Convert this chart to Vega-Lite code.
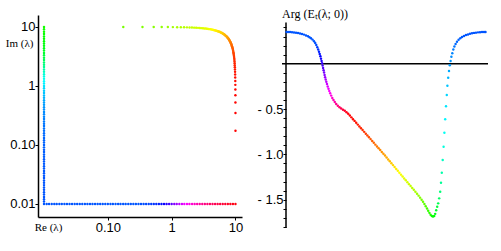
{
  "$schema": "https://vega.github.io/schema/vega-lite/v6.json",
  "padding": {"left": 5, "top": 8, "right": 5, "bottom": 5},
  "background": "white",
  "bounds": "flush",
  "spacing": 44,
  "config": {
    "view": {"stroke": null},
    "axis": {"grid": false, "domainColor": "black", "tickColor": "black", "labelColor": "black", "titleColor": "black", "labelFont": "Liberation Sans", "labelFontSize": 13, "titleFont": "Liberation Serif", "titleFontWeight": "normal", "titleFontSize": 11, "domainWidth": 1.5, "tickWidth": 1, "labelFlush": false, "labelOverlap": false}
  },
  "datasets": {
    "left": [
      {"re": 0.01, "im": 0.01, "h": 220}, {"re": 0.011, "im": 0.01, "h": 220}, {"re": 0.012, "im": 0.01, "h": 220}, {"re": 0.0132, "im": 0.01, "h": 220}, {"re": 0.0145, "im": 0.01, "h": 220}, {"re": 0.0158, "im": 0.01, "h": 220}, {"re": 0.0174, "im": 0.01, "h": 220}, {"re": 0.019, "im": 0.01, "h": 220}, {"re": 0.0209, "im": 0.01, "h": 220}, {"re": 0.0229, "im": 0.01, "h": 220}, {"re": 0.0251, "im": 0.01, "h": 220}, {"re": 0.0275, "im": 0.01, "h": 220}, {"re": 0.0302, "im": 0.01, "h": 220}, {"re": 0.0331, "im": 0.01, "h": 220}, {"re": 0.0363, "im": 0.01, "h": 220}, {"re": 0.0398, "im": 0.01, "h": 220}, {"re": 0.0437, "im": 0.01, "h": 220}, {"re": 0.0479, "im": 0.01, "h": 220}, {"re": 0.0525, "im": 0.01, "h": 220}, {"re": 0.0575, "im": 0.01, "h": 220}, {"re": 0.0631, "im": 0.01, "h": 220}, {"re": 0.0692, "im": 0.01, "h": 220}, {"re": 0.0759, "im": 0.01, "h": 220}, {"re": 0.0832, "im": 0.01, "h": 220}, {"re": 0.0912, "im": 0.01, "h": 220},
      {"re": 0.1, "im": 0.01, "h": 220}, {"re": 0.11, "im": 0.01, "h": 220}, {"re": 0.12, "im": 0.01, "h": 220}, {"re": 0.132, "im": 0.01, "h": 220}, {"re": 0.145, "im": 0.01, "h": 220}, {"re": 0.158, "im": 0.01, "h": 220}, {"re": 0.174, "im": 0.01, "h": 220}, {"re": 0.19, "im": 0.01, "h": 220}, {"re": 0.209, "im": 0.01, "h": 220}, {"re": 0.229, "im": 0.01, "h": 220}, {"re": 0.251, "im": 0.01, "h": 220}, {"re": 0.275, "im": 0.01, "h": 220}, {"re": 0.302, "im": 0.01, "h": 220}, {"re": 0.331, "im": 0.01, "h": 221}, {"re": 0.363, "im": 0.01, "h": 222}, {"re": 0.398, "im": 0.01, "h": 223}, {"re": 0.437, "im": 0.01, "h": 224}, {"re": 0.479, "im": 0.01, "h": 226}, {"re": 0.525, "im": 0.01, "h": 228}, {"re": 0.575, "im": 0.01, "h": 230}, {"re": 0.631, "im": 0.01, "h": 233}, {"re": 0.692, "im": 0.01, "h": 237}, {"re": 0.759, "im": 0.01, "h": 242}, {"re": 0.832, "im": 0.01, "h": 248}, {"re": 0.912, "im": 0.01, "h": 255},
      {"re": 1, "im": 0.01, "h": 262}, {"re": 1.1, "im": 0.01, "h": 270}, {"re": 1.2, "im": 0.01, "h": 277}, {"re": 1.32, "im": 0.01, "h": 284}, {"re": 1.45, "im": 0.01, "h": 290}, {"re": 1.58, "im": 0.01, "h": 296}, {"re": 1.74, "im": 0.01, "h": 301}, {"re": 1.9, "im": 0.01, "h": 306}, {"re": 2.09, "im": 0.01, "h": 311}, {"re": 2.29, "im": 0.01, "h": 315}, {"re": 2.51, "im": 0.01, "h": 319}, {"re": 2.75, "im": 0.01, "h": 323}, {"re": 3.02, "im": 0.01, "h": 327}, {"re": 3.31, "im": 0.01, "h": 330}, {"re": 3.63, "im": 0.01, "h": 333}, {"re": 3.98, "im": 0.01, "h": 336}, {"re": 4.37, "im": 0.01, "h": 339}, {"re": 4.79, "im": 0.01, "h": 341}, {"re": 5.25, "im": 0.01, "h": 343}, {"re": 5.75, "im": 0.01, "h": 345}, {"re": 6.31, "im": 0.01, "h": 347}, {"re": 6.92, "im": 0.01, "h": 349}, {"re": 7.59, "im": 0.01, "h": 351}, {"re": 8.32, "im": 0.01, "h": 353}, {"re": 9.12, "im": 0.01, "h": 355}, {"re": 10, "im": 0.01, "h": 357},
      {"re": 9.998, "im": 0.1745, "h": 0}, {"re": 9.994, "im": 0.349, "h": 0}, {"re": 9.986, "im": 0.523, "h": 1}, {"re": 9.976, "im": 0.698, "h": 1}, {"re": 9.962, "im": 0.872, "h": 2}, {"re": 9.945, "im": 1.045, "h": 2}, {"re": 9.925, "im": 1.219, "h": 3}, {"re": 9.903, "im": 1.392, "h": 3}, {"re": 9.877, "im": 1.564, "h": 4}, {"re": 9.848, "im": 1.736, "h": 5}, {"re": 9.816, "im": 1.908, "h": 6}, {"re": 9.781, "im": 2.079, "h": 7}, {"re": 9.744, "im": 2.25, "h": 8}, {"re": 9.703, "im": 2.419, "h": 9}, {"re": 9.659, "im": 2.588, "h": 10}, {"re": 9.613, "im": 2.756, "h": 11}, {"re": 9.563, "im": 2.924, "h": 12}, {"re": 9.511, "im": 3.09, "h": 13}, {"re": 9.455, "im": 3.256, "h": 14}, {"re": 9.397, "im": 3.42, "h": 15}, {"re": 9.336, "im": 3.584, "h": 16}, {"re": 9.272, "im": 3.746, "h": 17}, {"re": 9.205, "im": 3.907, "h": 18}, {"re": 9.135, "im": 4.067, "h": 19}, {"re": 9.063, "im": 4.226, "h": 20}, {"re": 8.988, "im": 4.384, "h": 21}, {"re": 8.91, "im": 4.54, "h": 22}, {"re": 8.829, "im": 4.695, "h": 23}, {"re": 8.746, "im": 4.848, "h": 24}, {"re": 8.66, "im": 5.0, "h": 25}, {"re": 8.572, "im": 5.15, "h": 26}, {"re": 8.48, "im": 5.299, "h": 27}, {"re": 8.387, "im": 5.446, "h": 28}, {"re": 8.29, "im": 5.592, "h": 29}, {"re": 8.192, "im": 5.736, "h": 30}, {"re": 8.09, "im": 5.878, "h": 31}, {"re": 7.986, "im": 6.018, "h": 32}, {"re": 7.88, "im": 6.157, "h": 33}, {"re": 7.771, "im": 6.293, "h": 34}, {"re": 7.66, "im": 6.428, "h": 35}, {"re": 7.547, "im": 6.561, "h": 36}, {"re": 7.431, "im": 6.691, "h": 37}, {"re": 7.314, "im": 6.82, "h": 38}, {"re": 7.193, "im": 6.947, "h": 39}, {"re": 7.071, "im": 7.071, "h": 40}, {"re": 6.947, "im": 7.193, "h": 41}, {"re": 6.82, "im": 7.314, "h": 42}, {"re": 6.691, "im": 7.431, "h": 43}, {"re": 6.561, "im": 7.547, "h": 44}, {"re": 6.428, "im": 7.66, "h": 45}, {"re": 6.293, "im": 7.771, "h": 46}, {"re": 6.157, "im": 7.88, "h": 47}, {"re": 6.018, "im": 7.986, "h": 48}, {"re": 5.878, "im": 8.09, "h": 49}, {"re": 5.736, "im": 8.192, "h": 50}, {"re": 5.592, "im": 8.29, "h": 51}, {"re": 5.446, "im": 8.387, "h": 52}, {"re": 5.299, "im": 8.48, "h": 53}, {"re": 5.15, "im": 8.572, "h": 54}, {"re": 5.0, "im": 8.66, "h": 55}, {"re": 4.848, "im": 8.746, "h": 56}, {"re": 4.695, "im": 8.829, "h": 57}, {"re": 4.54, "im": 8.91, "h": 58}, {"re": 4.384, "im": 8.988, "h": 59}, {"re": 4.226, "im": 9.063, "h": 60}, {"re": 4.067, "im": 9.135, "h": 61}, {"re": 3.907, "im": 9.205, "h": 62}, {"re": 3.746, "im": 9.272, "h": 63}, {"re": 3.584, "im": 9.336, "h": 64}, {"re": 3.42, "im": 9.397, "h": 65}, {"re": 3.256, "im": 9.455, "h": 66}, {"re": 3.09, "im": 9.511, "h": 67}, {"re": 2.924, "im": 9.563, "h": 68}, {"re": 2.756, "im": 9.613, "h": 69}, {"re": 2.588, "im": 9.659, "h": 70}, {"re": 2.419, "im": 9.703, "h": 71}, {"re": 2.25, "im": 9.744, "h": 72}, {"re": 2.079, "im": 9.781, "h": 73}, {"re": 1.908, "im": 9.816, "h": 74}, {"re": 1.736, "im": 9.848, "h": 75}, {"re": 1.564, "im": 9.877, "h": 77}, {"re": 1.392, "im": 9.903, "h": 78}, {"re": 1.219, "im": 9.925, "h": 80}, {"re": 1.045, "im": 9.945, "h": 82}, {"re": 0.872, "im": 9.962, "h": 84}, {"re": 0.698, "im": 9.976, "h": 86}, {"re": 0.523, "im": 9.986, "h": 88}, {"re": 0.349, "im": 9.994, "h": 90}, {"re": 0.1745, "im": 9.998, "h": 92},
      {"re": 0.01, "im": 10, "h": 115}, {"re": 0.01, "im": 9.12, "h": 116}, {"re": 0.01, "im": 8.32, "h": 117}, {"re": 0.01, "im": 7.59, "h": 118}, {"re": 0.01, "im": 6.92, "h": 119}, {"re": 0.01, "im": 6.31, "h": 120}, {"re": 0.01, "im": 5.75, "h": 121}, {"re": 0.01, "im": 5.25, "h": 122}, {"re": 0.01, "im": 4.79, "h": 124}, {"re": 0.01, "im": 4.37, "h": 126}, {"re": 0.01, "im": 3.98, "h": 128}, {"re": 0.01, "im": 3.63, "h": 131}, {"re": 0.01, "im": 3.31, "h": 134}, {"re": 0.01, "im": 3.02, "h": 137}, {"re": 0.01, "im": 2.75, "h": 141}, {"re": 0.01, "im": 2.51, "h": 145}, {"re": 0.01, "im": 2.29, "h": 150}, {"re": 0.01, "im": 2.09, "h": 155}, {"re": 0.01, "im": 1.9, "h": 160}, {"re": 0.01, "im": 1.74, "h": 165}, {"re": 0.01, "im": 1.58, "h": 170}, {"re": 0.01, "im": 1.45, "h": 174}, {"re": 0.01, "im": 1.32, "h": 177}, {"re": 0.01, "im": 1.2, "h": 180}, {"re": 0.01, "im": 1.1, "h": 183}, {"re": 0.01, "im": 1, "h": 186},
      {"re": 0.01, "im": 0.912, "h": 189}, {"re": 0.01, "im": 0.832, "h": 192}, {"re": 0.01, "im": 0.759, "h": 194}, {"re": 0.01, "im": 0.692, "h": 196}, {"re": 0.01, "im": 0.631, "h": 198}, {"re": 0.01, "im": 0.575, "h": 200}, {"re": 0.01, "im": 0.525, "h": 202}, {"re": 0.01, "im": 0.479, "h": 203}, {"re": 0.01, "im": 0.437, "h": 205}, {"re": 0.01, "im": 0.398, "h": 206}, {"re": 0.01, "im": 0.363, "h": 207}, {"re": 0.01, "im": 0.331, "h": 208}, {"re": 0.01, "im": 0.302, "h": 209}, {"re": 0.01, "im": 0.275, "h": 210}, {"re": 0.01, "im": 0.251, "h": 211}, {"re": 0.01, "im": 0.229, "h": 212}, {"re": 0.01, "im": 0.209, "h": 213}, {"re": 0.01, "im": 0.19, "h": 213}, {"re": 0.01, "im": 0.174, "h": 214}, {"re": 0.01, "im": 0.158, "h": 215}, {"re": 0.01, "im": 0.145, "h": 215}, {"re": 0.01, "im": 0.132, "h": 216}, {"re": 0.01, "im": 0.12, "h": 216}, {"re": 0.01, "im": 0.11, "h": 217}, {"re": 0.01, "im": 0.1, "h": 217},
      {"re": 0.01, "im": 0.0912, "h": 217}, {"re": 0.01, "im": 0.0832, "h": 218}, {"re": 0.01, "im": 0.0759, "h": 218}, {"re": 0.01, "im": 0.0692, "h": 218}, {"re": 0.01, "im": 0.0631, "h": 218}, {"re": 0.01, "im": 0.0575, "h": 219}, {"re": 0.01, "im": 0.0525, "h": 219}, {"re": 0.01, "im": 0.0479, "h": 219}, {"re": 0.01, "im": 0.0437, "h": 219}, {"re": 0.01, "im": 0.0398, "h": 219}, {"re": 0.01, "im": 0.0363, "h": 219}, {"re": 0.01, "im": 0.0331, "h": 220}, {"re": 0.01, "im": 0.0302, "h": 220}, {"re": 0.01, "im": 0.0275, "h": 220}, {"re": 0.01, "im": 0.0251, "h": 220}, {"re": 0.01, "im": 0.0229, "h": 220}, {"re": 0.01, "im": 0.0209, "h": 220}, {"re": 0.01, "im": 0.019, "h": 220}, {"re": 0.01, "im": 0.0174, "h": 220}, {"re": 0.01, "im": 0.0158, "h": 220}, {"re": 0.01, "im": 0.0145, "h": 220}, {"re": 0.01, "im": 0.0132, "h": 220}, {"re": 0.01, "im": 0.012, "h": 220}, {"re": 0.01, "im": 0.011, "h": 220}
    ],
    "right": [
      {"t": 4.5, "v": 0.35, "h": 220}, {"t": 6, "v": 0.35, "h": 220}, {"t": 8, "v": 0.349, "h": 220}, {"t": 10, "v": 0.347, "h": 220}, {"t": 12, "v": 0.344, "h": 220}, {"t": 14, "v": 0.341, "h": 220}, {"t": 16, "v": 0.338, "h": 220}, {"t": 18, "v": 0.333, "h": 220}, {"t": 20, "v": 0.328, "h": 220}, {"t": 22, "v": 0.321, "h": 220}, {"t": 24, "v": 0.312, "h": 220}, {"t": 26, "v": 0.302, "h": 220}, {"t": 27.5, "v": 0.293, "h": 220}, {"t": 29, "v": 0.28, "h": 220}, {"t": 30.5, "v": 0.266, "h": 220}, {"t": 32, "v": 0.248, "h": 220},
      {"t": 33.2, "v": 0.229, "h": 221}, {"t": 34.3, "v": 0.206, "h": 223}, {"t": 35.3, "v": 0.182, "h": 226}, {"t": 36.2, "v": 0.157, "h": 229}, {"t": 37, "v": 0.131, "h": 232}, {"t": 37.7, "v": 0.107, "h": 236}, {"t": 38.4, "v": 0.082, "h": 240}, {"t": 39, "v": 0.056, "h": 244}, {"t": 39.6, "v": 0.03, "h": 248}, {"t": 40.1, "v": 0.004, "h": 252}, {"t": 40.6, "v": -0.021, "h": 256}, {"t": 41.1, "v": -0.048, "h": 260}, {"t": 41.6, "v": -0.073, "h": 264}, {"t": 42.1, "v": -0.098, "h": 268}, {"t": 42.6, "v": -0.124, "h": 272}, {"t": 43.1, "v": -0.149, "h": 276}, {"t": 43.7, "v": -0.174, "h": 280}, {"t": 44.3, "v": -0.2, "h": 284}, {"t": 45, "v": -0.225, "h": 288}, {"t": 45.7, "v": -0.251, "h": 292}, {"t": 46.5, "v": -0.276, "h": 296}, {"t": 47.3, "v": -0.301, "h": 300}, {"t": 48.2, "v": -0.327, "h": 304}, {"t": 49.2, "v": -0.352, "h": 308}, {"t": 50.3, "v": -0.378, "h": 312}, {"t": 51.5, "v": -0.401, "h": 316}, {"t": 52.8, "v": -0.423, "h": 321}, {"t": 54.2, "v": -0.445, "h": 326}, {"t": 55.8, "v": -0.465, "h": 331}, {"t": 57.5, "v": -0.481, "h": 336}, {"t": 59.2, "v": -0.495, "h": 341}, {"t": 61, "v": -0.507, "h": 346}, {"t": 62.8, "v": -0.52, "h": 350}, {"t": 64.5, "v": -0.535, "h": 354}, {"t": 66.2, "v": -0.553, "h": 357}, {"t": 67.8, "v": -0.572, "h": 360},
      {"t": 69.4, "v": -0.592, "h": 1}, {"t": 71, "v": -0.612, "h": 2}, {"t": 72.6, "v": -0.631, "h": 3}, {"t": 74.2, "v": -0.652, "h": 4}, {"t": 75.8, "v": -0.672, "h": 6}, {"t": 77.4, "v": -0.692, "h": 7}, {"t": 79, "v": -0.712, "h": 9}, {"t": 80.6, "v": -0.732, "h": 10}, {"t": 82.2, "v": -0.752, "h": 12}, {"t": 83.8, "v": -0.773, "h": 14}, {"t": 85.4, "v": -0.793, "h": 16}, {"t": 87, "v": -0.812, "h": 18}, {"t": 88.6, "v": -0.832, "h": 20}, {"t": 90.2, "v": -0.852, "h": 22}, {"t": 91.8, "v": -0.873, "h": 24}, {"t": 93.4, "v": -0.893, "h": 26}, {"t": 95, "v": -0.913, "h": 28}, {"t": 96.6, "v": -0.933, "h": 30}, {"t": 98.2, "v": -0.953, "h": 32}, {"t": 99.8, "v": -0.974, "h": 34}, {"t": 101.4, "v": -0.993, "h": 36}, {"t": 103, "v": -1.014, "h": 38}, {"t": 104.6, "v": -1.035, "h": 40}, {"t": 106.2, "v": -1.056, "h": 42}, {"t": 107.8, "v": -1.077, "h": 44}, {"t": 109.4, "v": -1.098, "h": 47}, {"t": 111, "v": -1.119, "h": 50}, {"t": 112.6, "v": -1.14, "h": 53}, {"t": 114.2, "v": -1.161, "h": 56}, {"t": 115.8, "v": -1.182, "h": 58}, {"t": 117.4, "v": -1.203, "h": 60}, {"t": 119, "v": -1.224, "h": 62}, {"t": 120.6, "v": -1.245, "h": 64}, {"t": 122.2, "v": -1.266, "h": 66}, {"t": 123.8, "v": -1.287, "h": 68}, {"t": 125.4, "v": -1.308, "h": 70}, {"t": 127, "v": -1.329, "h": 72}, {"t": 128.6, "v": -1.35, "h": 74}, {"t": 130.2, "v": -1.371, "h": 76}, {"t": 131.8, "v": -1.392, "h": 78}, {"t": 133.4, "v": -1.413, "h": 80}, {"t": 135, "v": -1.434, "h": 83}, {"t": 136.6, "v": -1.456, "h": 86}, {"t": 138.1, "v": -1.478, "h": 89}, {"t": 139.6, "v": -1.501, "h": 92}, {"t": 141, "v": -1.524, "h": 95}, {"t": 142.4, "v": -1.549, "h": 98}, {"t": 143.7, "v": -1.573, "h": 101}, {"t": 145, "v": -1.598, "h": 104}, {"t": 146.2, "v": -1.623, "h": 107}, {"t": 147.4, "v": -1.646, "h": 110}, {"t": 148.6, "v": -1.666, "h": 113}, {"t": 149.8, "v": -1.68, "h": 116}, {"t": 151, "v": -1.687, "h": 119}, {"t": 152.2, "v": -1.681, "h": 122}, {"t": 153.2, "v": -1.657, "h": 126},
      {"t": 154.2, "v": -1.618, "h": 130}, {"t": 155.2, "v": -1.578, "h": 134}, {"t": 156.2, "v": -1.541, "h": 138}, {"t": 157.2, "v": -1.486, "h": 143}, {"t": 158.2, "v": -1.413, "h": 148}, {"t": 159, "v": -1.314, "h": 155}, {"t": 159.8, "v": -1.203, "h": 160}, {"t": 160.7, "v": -1.063, "h": 166}, {"t": 161.6, "v": -0.916, "h": 172}, {"t": 162.4, "v": -0.762, "h": 177}, {"t": 163.2, "v": -0.614, "h": 182}, {"t": 164, "v": -0.47, "h": 186}, {"t": 164.8, "v": -0.346, "h": 190}, {"t": 165.4, "v": -0.243, "h": 194}, {"t": 166.2, "v": -0.155, "h": 197}, {"t": 167, "v": -0.081, "h": 200}, {"t": 167.8, "v": -0.018, "h": 203}, {"t": 168.6, "v": 0.03, "h": 205}, {"t": 169.4, "v": 0.077, "h": 207}, {"t": 170.3, "v": 0.115, "h": 209}, {"t": 171.3, "v": 0.157, "h": 211}, {"t": 172.4, "v": 0.19, "h": 213}, {"t": 173.6, "v": 0.217, "h": 215}, {"t": 175, "v": 0.242, "h": 216}, {"t": 176.6, "v": 0.264, "h": 217}, {"t": 178.3, "v": 0.28, "h": 218}, {"t": 180, "v": 0.294, "h": 219}, {"t": 182, "v": 0.306, "h": 220}, {"t": 184, "v": 0.316, "h": 220}, {"t": 186, "v": 0.323, "h": 220}, {"t": 188, "v": 0.33, "h": 220}, {"t": 190, "v": 0.336, "h": 220}, {"t": 192, "v": 0.34, "h": 220}, {"t": 194, "v": 0.343, "h": 220}, {"t": 196, "v": 0.346, "h": 220}, {"t": 198, "v": 0.348, "h": 220}, {"t": 200, "v": 0.349, "h": 220}, {"t": 202, "v": 0.35, "h": 220}, {"t": 203.5, "v": 0.351, "h": 220}
    ]
  },
  "hconcat": [
    {
      "width": 204,
      "height": 202,
      "data": {"name": "left"},
      "mark": {"type": "point", "filled": true, "size": 6, "opacity": 1, "shape": "circle"},
      "encoding": {
        "x": {"field": "re", "type": "quantitative", "scale": {"type": "log", "domain": [0.00805, 12.65], "nice": false},
          "axis": {"values": [0.1, 1, 10], "labelExpr": "datum.value >= 1 ? format(datum.value, 'd') : format(datum.value, '.2f')", "title": "Re (λ)", "titleX": 10, "titleY": 10.5, "titleAlign": "center", "titleBaseline": "middle", "titleAnchor": null, "tickSize": 3, "labelPadding": 1}},
        "y": {"field": "im", "type": "quantitative", "scale": {"type": "log", "domain": [0.00602, 15.96], "nice": false},
          "axis": {"values": [0.01, 0.1, 1, 10], "labelExpr": "datum.value >= 1 ? format(datum.value, 'd') : format(datum.value, '.2f')", "title": "Im (λ)", "titleAngle": 0, "titleX": -5, "titleY": 28, "titleAlign": "right", "titleBaseline": "middle", "titleAnchor": null, "tickSize": 3, "labelPadding": 0}},
        "color": {"field": "h", "type": "quantitative", "legend": null,
          "scale": {"domain": [0, 60, 120, 180, 240, 300, 360], "range": ["#ff0000", "#ffff00", "#00ff00", "#00ffff", "#0000ff", "#ff00ff", "#ff0000"], "interpolate": "rgb"}}
      }
    },
    {
      "width": 202,
      "height": 213,
      "resolve": {"axis": {"x": "independent", "y": "independent"}},
      "layer": [
        {
          "data": {"values": [{"k": 1}]},
          "mark": {"type": "rule", "color": "black", "strokeWidth": 1.5},
          "encoding": {"x": {"datum": 0, "axis": null}, "x2": {"datum": 206}, "y": {"datum": 0, "axis": null}}
        },
        {
          "data": {"values": [{"k": 1}]},
          "mark": {"type": "rule", "color": "black", "strokeWidth": 1.5},
          "encoding": {"x": {"datum": 4, "axis": null}, "y": {"datum": 0.455, "axis": null}, "y2": {"datum": -1.813}}
        },
        {
          "data": {"values": [{"k": 1}]},
          "mark": {"type": "text", "text": "Arg (Eₜ(λ; 0))", "font": "Liberation Serif", "fontSize": 12, "fontWeight": "normal", "align": "left", "baseline": "middle", "fill": "black"},
          "encoding": {"x": {"datum": 0, "axis": null}, "y": {"datum": 0.548, "axis": null}}
        },
        {
          "data": {"name": "right"},
          "mark": {"type": "point", "filled": true, "size": 6, "opacity": 1, "shape": "circle"},
          "encoding": {
            "x": {"field": "t", "type": "quantitative", "scale": {"domain": [4, 206], "nice": false, "zero": false}, "axis": null},
            "y": {"field": "v", "type": "quantitative", "scale": {"domain": [-1.813, 0.5375], "nice": false, "zero": false},
              "axis": {"orient": "left", "values": [-1.8, -1.7, -1.6, -1.5, -1.4, -1.3, -1.2, -1.1, -1.0, -0.9, -0.8, -0.7, -0.6, -0.5, -0.4, -0.3, -0.2, -0.1, 0.1, 0.2, 0.3, 0.4],
                "labelExpr": "(abs(datum.value * 2 - round(datum.value * 2)) < 0.001) ? '- ' + format(abs(datum.value), '.1f') : ''",
                "tickSize": 3,
                "domain": false, "labelPadding": 0, "title": null}},
            "color": {"field": "h", "type": "quantitative", "legend": null,
              "scale": {"domain": [0, 60, 120, 180, 240, 300, 360], "range": ["#ff0000", "#ffff00", "#00ff00", "#00ffff", "#0000ff", "#ff00ff", "#ff0000"], "interpolate": "rgb"}}
          }
        }
      ]
    }
  ]
}
